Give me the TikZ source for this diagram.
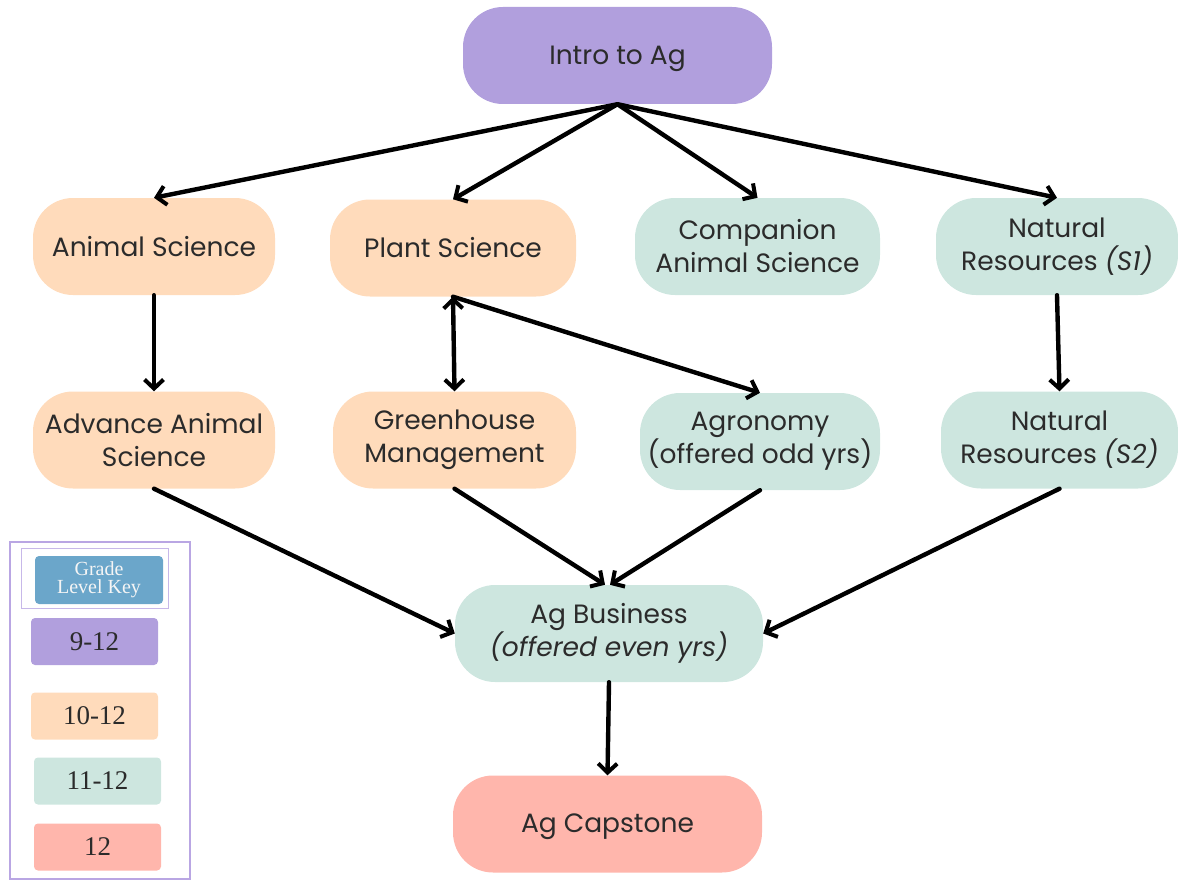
\documentclass[tikz,border=0pt]{standalone}
\usepackage{fontspec}
\setmainfont{Poppins}
\newfontfamily\keyfont{Liberation Serif}
\usetikzlibrary{arrows.meta}
\definecolor{cpurple}{HTML}{B19FDD}
\definecolor{corange}{HTML}{FFDBBB}
\definecolor{cteal}{HTML}{CDE6DF}
\definecolor{cpink}{HTML}{FFB6AC}
\definecolor{cblue}{HTML}{6BA6CA}
\definecolor{ctext}{HTML}{2B2B2B}
\definecolor{cframe}{HTML}{B9A6E3}
\newcommand{\lowered}[1]{\raisebox{-3pt}[\height][\depth]{#1}}
\tikzset{
  course/.style={rectangle, rounded corners=40pt, minimum width=#1, minimum height=97pt,
    align=center, text=ctext, font=\fontsize{26.5pt}{33pt}\selectfont, inner sep=0pt},
  course/.default=242pt,
  tip/.tip={Straight Barb[length=9pt,width=19pt,line width=4pt]},
  link/.style={line width=4.4pt, -tip, line cap=round},
  keybox/.style={rectangle, rounded corners=4pt, minimum width=127pt, minimum height=47pt,
    text=ctext, font=\keyfont\fontsize{27pt}{30pt}\selectfont, inner sep=0pt}
}
\begin{document}
\begin{tikzpicture}[x=1pt,y=-1pt]
\useasboundingbox (0,0) rectangle (1178,880);
% course nodes
\node[course=309pt, fill=cpurple] (intro) at (617.5,55.5) {\lowered{Intro to Ag}};
\node[course, fill=corange] (anim) at (154,246.5) {Animal Science};
\node[course=246pt, fill=corange] (plant) at (453,248) {Plant Science};
\node[course=245pt, fill=cteal] (comp) at (757.5,246.5) {Companion\\Animal Science};
\node[course, fill=cteal] (nr1) at (1057,246.5) {Natural\\Resources \textit{(S1)}};
\node[course, fill=corange] (adv) at (154,440) {Advance Animal\\Science};
\node[course=243pt, fill=corange] (green) at (454.5,440) {Greenhouse\\Management};
\node[course=240pt, fill=cteal] (agro) at (760,441.5) {Agronomy\\(offered odd yrs)};
\node[course=237pt, fill=cteal] (nr2) at (1059.5,440) {Natural\\Resources \textit{(S2)}};
\node[course=308pt, fill=cteal] (bus) at (609,633.5) {Ag Business\\\textit{(offered even yrs)}};
\node[course=309pt, fill=cpink] (cap) at (607.5,824) {\lowered{Ag Capstone}};
% connectors
\draw[link] (intro.south) -- (anim.north);
\draw[link] (intro.south) -- (plant.north);
\draw[link] (intro.south) -- (comp.north);
\draw[link] (intro.south) -- (nr1.north);
\draw[link] (anim.south) -- (adv.north);
\draw[link, tip-tip] (plant.south) -- (green.north);
\draw[link] (plant.south) -- (agro.north);
\draw[link] (nr1.south) -- (nr2.north);
\draw[link] (adv.south) -- (bus.west);
\draw[link] (green.south) -- ([xshift=-4pt]bus.north);
\draw[link] (agro.south) -- ([xshift=1pt]bus.north);
\draw[link] (nr2.south) -- (bus.east);
\draw[link] (bus.south) -- (cap.north);
% legend
\draw[cframe, line width=2.5pt] (10,542) rectangle (190,879);
\draw[cframe!80, line width=1pt] (21,548) rectangle (168,608);
\node[keybox, fill=cblue, minimum width=128pt, minimum height=48pt, text=white!92!gray,
  font=\keyfont\fontsize{20pt}{18pt}\selectfont, align=center] (kgrade) at (99,580) {Grade\\Level Key};
\node[keybox, fill=cpurple] (k1) at (94.5,641.5) {9-12};
\node[keybox, fill=corange] (k2) at (94.5,716) {10-12};
\node[keybox, fill=cteal] (k3) at (97.5,781) {11-12};
\node[keybox, fill=cpink] (k4) at (97.5,847) {12};
\end{tikzpicture}
\end{document}
